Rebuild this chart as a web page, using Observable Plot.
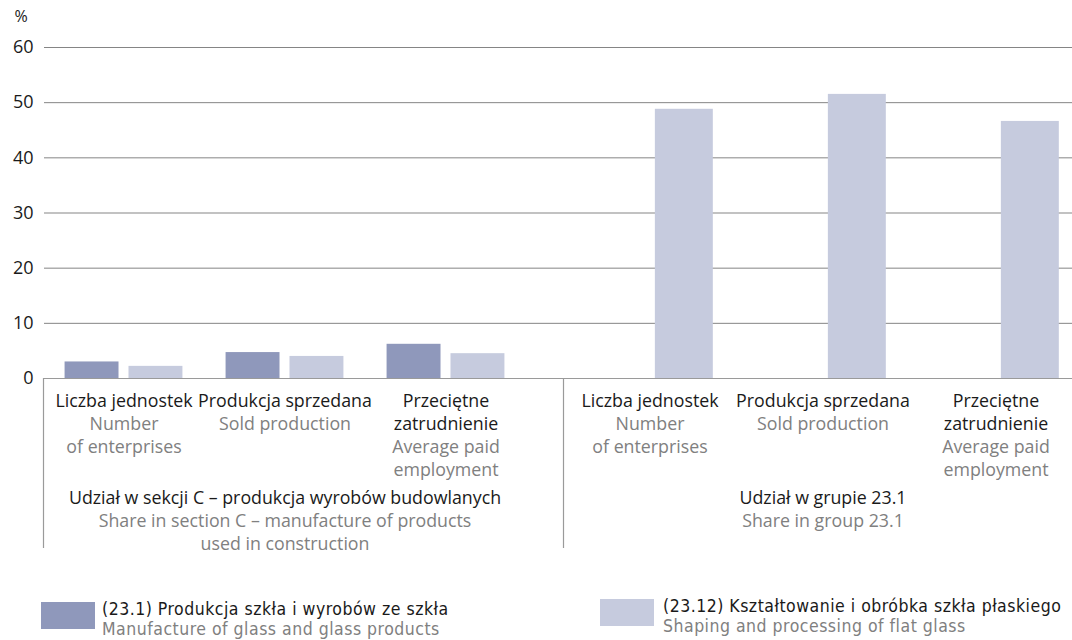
<!DOCTYPE html>
<html>
<head>
<meta charset="utf-8">
<script src="https://cdn.jsdelivr.net/npm/d3@7"></script>
<script src="https://cdn.jsdelivr.net/npm/@observablehq/plot@0.6"></script>
<style>
  html, body { margin: 0; padding: 0; background: #fff; }
  body { width: 1072px; height: 640px; overflow: hidden; position: relative; font-family: "Open Sans", sans-serif; }
  #left { position: absolute; left: 0; top: 0; width: 563px; }
  #right { position: absolute; left: 562px; top: 0; width: 530px; }
  .leg { position: absolute; font-family: "Liberation Sans Narrow", "DejaVu Sans Condensed", sans-serif; font-size: 17.5px; line-height: 20px; letter-spacing: 0.5px; white-space: nowrap; }
  .leg .sw { position: absolute; width: 54px; height: 27px; }
  .leg .t1 { color: #1a1a1a; }
  .leg .t2 { color: #808080; }
</style>
</head>
<body>
<div id="left"></div>
<div id="right"></div>
<div id="legend"></div>
<script>
// ---- data ----
const categoriesPL = ["Liczba jednostek", "Produkcja sprzedana", "Przeciętne\nzatrudnienie"];
const categoriesEN = ["Number\nof enterprises", "Sold production", "Average paid\nemployment"];
const groupsPL = ["Udział w sekcji C – produkcja wyrobów budowlanych", "Udział w grupie 23.1"];
const groupsEN = ["Share in section C – manufacture of products\nused in construction", "Share in group 23.1"];
const seriesPL = ["(23.1) Produkcja szkła i wyrobów ze szkła", "(23.12) Kształtowanie i obróbka szkła płaskiego"];
const seriesEN = ["Manufacture of glass and glass products", "Shaping and processing of flat glass"];
// share in section C (%)
const sectionC_231 = [3.0, 4.7, 6.2];
const sectionC_2312 = [2.2, 4.0, 4.5];
// share in group 23.1 (%)
const group231_231 = [null, null, null];
const group231_2312 = [48.8, 51.5, 46.6];
const yTicks = [0, 10, 20, 30, 40, 50, 60];
const yUnit = "%";

// ---- style ----
const darkColor = "#8f98bb";
const lightColor = "#c6cbde";
const gridColor = "#858585";
const axisLineColor = "#9a9a9a";
const blackText = "#1a1a1a";
const grayText = "#808080";
const FONT = "Open Sans";
const FS = 17.8;
const LH = 23 / FS;

function nLines(s) { return s.split("\n").length; }

function panel({group, dark, light, width, marginLeft, range, yAxis}) {
  const rows = categoriesPL.map((c, i) => ({cat: c, en: categoriesEN[i], dark: dark[i], light: light[i]}));
  const bw = (range[1] - range[0]) / categoriesPL.length;
  const height = 570, marginTop = 47, marginBottom = 192;
  const frameH = height - marginTop - marginBottom;
  const marks = [
    Plot.ruleY(yTicks.filter(t => t > 0), {stroke: gridColor, strokeWidth: 1}),
    Plot.ruleY([0], {stroke: axisLineColor, strokeWidth: 1}),
    Plot.barY(rows.filter(d => d.dark != null), {x: "cat", y: "dark", fill: darkColor, insetLeft: bw * 0.134, insetRight: bw * 0.531}),
    Plot.barY(rows.filter(d => d.light != null), {x: "cat", y: "light", fill: lightColor, insetLeft: bw * 0.531, insetRight: bw * 0.134}),
    Plot.ruleX([categoriesPL[0]], {x: d => d, dx: -bw / 2, stroke: axisLineColor, strokeWidth: 1.2, insetTop: frameH, insetBottom: -170}),
    Plot.text(rows, {x: "cat", y: 0, text: "cat", lineAnchor: "top", dy: 12, fontSize: FS, lineHeight: LH, fill: blackText}),
    Plot.text(rows, {x: "cat", y: 0, text: d => "\n".repeat(nLines(d.cat)) + d.en, lineAnchor: "top", dy: 12, fontSize: FS, lineHeight: LH, fill: grayText}),
    Plot.text([groupsPL[group]], {x: () => categoriesPL[1], y: 0, text: d => d, lineAnchor: "top", dy: 109, fontSize: FS, lineHeight: LH, fill: blackText}),
    Plot.text([groupsEN[group]], {x: () => categoriesPL[1], y: 0, text: d => "\n" + d, lineAnchor: "top", dy: 109, fontSize: FS, lineHeight: LH, fill: grayText})
  ];
  if (yAxis) {
    marks.push(Plot.axisY({ticks: yTicks, tickSize: 0, tickPadding: 11, fontSize: 18, label: null, fill: blackText}));
    marks.push(Plot.text([yUnit], {frameAnchor: "top-left", text: d => d, textAnchor: "start", lineAnchor: "middle", dx: -30, dy: -31, fontSize: 16, fill: blackText}));
  }
  return Plot.plot({
    width, height, marginTop, marginBottom, marginLeft, marginRight: 0,
    style: {fontFamily: FONT, fontSize: "16px", overflow: "visible", background: "transparent", maxWidth: "none"},
    x: {domain: categoriesPL, range, padding: 0, axis: null},
    y: {domain: [0, 60], axis: yAxis ? undefined : null},
    marks
  });
}

document.getElementById("left").append(panel({group: 0, dark: sectionC_231, light: sectionC_2312, width: 563, marginLeft: 44, range: [43, 526], yAxis: true}));
document.getElementById("right").append(panel({group: 1, dark: group231_231, light: group231_2312, width: 530, marginLeft: 1, range: [1, 520], yAxis: false}));

// ---- legend ----
const legend = document.getElementById("legend");
const legPos = [{sx: 41, sy: 602, tx: 102, ty: 599}, {sx: 600, sy: 599, tx: 663, ty: 596}];
[darkColor, lightColor].forEach((col, i) => {
  const p = legPos[i];
  const sw = document.createElement("div");
  sw.className = "leg";
  sw.innerHTML = `<div class="sw" style="left:${p.sx}px;top:${p.sy}px;background:${col}"></div>`;
  legend.append(sw);
  const t = document.createElement("div");
  t.className = "leg";
  t.style.left = p.tx + "px"; t.style.top = p.ty + "px";
  t.innerHTML = `<div class="t1">${seriesPL[i]}</div><div class="t2">${seriesEN[i]}</div>`;
  legend.append(t);
});
</script>
</body>
</html>
